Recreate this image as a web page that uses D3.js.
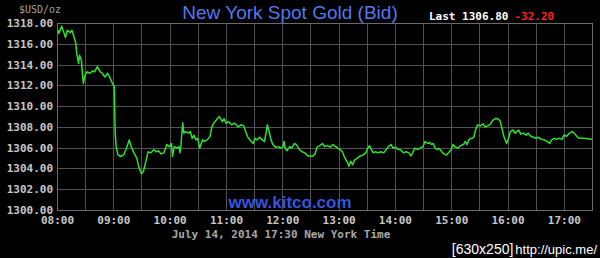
<!DOCTYPE html>
<html>
<head>
<meta charset="utf-8">
<script src="https://cdn.jsdelivr.net/npm/d3@7"></script>
<style>
  html, body { margin: 0; padding: 0; background: #000; }
  svg { display: block; }
  .tick text { font-family: "DejaVu Sans Mono", monospace; font-size: 11px; font-weight: bold; fill: #c8c8c8; }
</style>
</head>
<body>
<div id="chart"></div>
<script>
/* CONSTANTS AND GLOBALS */
const width = 600,
  height = 258,
  margin = { top: 23, bottom: 48, left: 57, right: 8 };

// minutes after 08:00 and the bid price
const minutes = [1, 2, 5, 7, 9, 11, 14, 16, 18, 20, 21, 23, 24, 26, 28, 30, 32, 35, 38, 40,
  43, 46, 48, 51, 54, 56, 59, 61, 62, 63, 65, 68, 71, 74, 77, 79, 82, 85, 87, 90,
  92, 95, 97, 100, 103, 106, 108, 111, 114, 117, 120, 122, 123, 125, 128, 130, 131, 132, 133, 134,
  135, 137, 140, 142, 144, 146, 148, 150, 152, 155, 157, 160, 163, 165, 167, 170, 173, 176, 178, 180,
  183, 186, 189, 190, 193, 196, 199, 201, 203, 205, 207, 209, 211, 213, 216, 218, 221, 223, 224, 226,
  228, 230, 233, 236, 238, 241, 242, 243, 245, 248, 250, 253, 255, 258, 261, 264, 267, 270, 272, 275,
  277, 280, 283, 285, 288, 291, 294, 297, 299, 302, 304, 306, 308, 310, 311, 313, 315, 317, 320, 323,
  326, 329, 331, 333, 335, 337, 339, 342, 345, 348, 351, 353, 356, 358, 361, 363, 366, 369, 372, 375,
  377, 379, 381, 384, 387, 390, 392, 395, 397, 399, 401, 403, 405, 407, 410, 412, 415, 417, 420, 422,
  424, 427, 430, 433, 435, 437, 439, 442, 444, 446, 448, 451, 454, 456, 459, 462, 464, 467, 470, 472,
  474, 476, 479, 481, 483, 486, 488, 490, 492, 494, 497, 500, 502, 505, 508, 510, 513, 516, 519, 522,
  525, 527, 530, 532, 535, 538, 540, 543, 546, 549, 551, 554, 556, 561, 570];

const prices = [1317.33, 1317.0, 1317.7, 1317.16, 1316.6, 1317.3, 1317.07, 1317.3, 1316.7, 1316.05, 1315.1, 1314.1, 1314.9, 1314.4, 1312.2, 1313.0, 1313.3, 1313.16, 1313.4, 1313.3,
  1313.8, 1313.3, 1313.2, 1312.8, 1313.16, 1312.8, 1312.2, 1311.9, 1307.4, 1306.1, 1305.3, 1305.15, 1305.3, 1305.95, 1306.75, 1306.1, 1305.5, 1305.0, 1304.2, 1303.5,
  1303.7, 1304.8, 1305.6, 1305.5, 1305.8, 1305.6, 1305.7, 1305.4, 1305.5, 1306.3, 1306.1, 1306.4, 1305.15, 1306.1, 1305.95, 1306.1, 1305.5, 1306.1, 1307.4, 1308.4,
  1307.4, 1307.55, 1307.4, 1307.55, 1306.9, 1307.2, 1306.75, 1306.9, 1305.95, 1306.75, 1306.6, 1306.75, 1307.07, 1308.0, 1308.35, 1308.7, 1309.0, 1308.5, 1308.8, 1308.35,
  1308.5, 1308.2, 1308.35, 1308.3, 1308.0, 1308.2, 1308.1, 1307.55, 1307.07, 1306.8, 1306.6, 1306.4, 1306.9, 1306.75, 1307.0, 1306.8, 1306.6, 1307.55, 1308.2, 1307.55,
  1306.75, 1306.3, 1306.05, 1306.1, 1305.95, 1306.1, 1306.6, 1305.95, 1305.7, 1306.1, 1305.95, 1306.4, 1306.3, 1305.85, 1305.6, 1305.5, 1305.2, 1305.2, 1305.15, 1305.4,
  1306.05, 1306.2, 1306.4, 1306.1, 1306.2, 1306.05, 1306.3, 1306.1, 1305.95, 1305.8, 1305.6, 1305.15, 1304.8, 1304.5, 1304.2, 1304.7, 1304.35, 1304.8, 1305.0, 1305.2,
  1305.3, 1305.5, 1305.95, 1306.2, 1305.8, 1305.5, 1305.6, 1305.5, 1305.6, 1305.5, 1305.85, 1306.1, 1306.3, 1305.95, 1306.05, 1305.85, 1305.8, 1305.5, 1305.6, 1305.5,
  1305.2, 1305.5, 1305.95, 1305.85, 1305.95, 1306.1, 1306.6, 1306.4, 1306.5, 1306.3, 1306.4, 1305.95, 1305.8, 1305.95, 1305.6, 1305.4, 1305.3, 1305.5, 1305.8, 1306.3,
  1306.1, 1305.95, 1306.2, 1306.3, 1306.6, 1306.3, 1306.8, 1306.9, 1307.0, 1307.7, 1308.2, 1308.1, 1308.3, 1308.0, 1308.1, 1308.3, 1308.6, 1308.8, 1308.75, 1308.6,
  1307.9, 1307.1, 1306.4, 1306.9, 1307.55, 1307.7, 1307.4, 1307.55, 1307.7, 1307.3, 1307.4, 1307.2, 1307.4, 1307.07, 1307.0, 1306.9, 1307.0, 1306.8, 1306.75, 1306.6,
  1306.4, 1306.75, 1306.9, 1306.8, 1306.9, 1306.8, 1307.2, 1307.1, 1307.4, 1307.55, 1307.4, 1307.07, 1306.9, 1306.9, 1306.8];

const priceTicks = [1300, 1302, 1304, 1306, 1308, 1310, 1312, 1314, 1316, 1318];
const hourTicks = ["08:00", "09:00", "10:00", "11:00", "12:00", "13:00", "14:00", "15:00", "16:00", "17:00"];
const lastPrice = "1306.80";
const change = "-32.20";

let svg, xScale, yScale;

const parseTime = d3.timeParse("%Y-%m-%d %H:%M");
const startTime = parseTime("2014-07-14 08:00");
const endTime = parseTime("2014-07-14 17:30");

init();

function init() {
  svg = d3.select("#chart").append("svg")
    .attr("width", width)
    .attr("height", height);

  svg.append("rect").attr("width", width).attr("height", height).attr("fill", "#000");

  xScale = d3.scaleTime()
    .domain([startTime, endTime])
    .range([margin.left, width - margin.right]);

  yScale = d3.scaleLinear()
    .domain([1300, 1318])
    .range([height - margin.bottom, margin.top]);

  // grid: every half hour and every 2 dollars
  const halfHours = d3.timeMinute.every(30).range(startTime, d3.timeMinute.offset(endTime, 1));
  svg.append("g")
    .selectAll("line")
    .data(halfHours)
    .join("line")
    .attr("x1", d => Math.round(xScale(d)) + 0.5)
    .attr("x2", d => Math.round(xScale(d)) + 0.5)
    .attr("y1", yScale(1318))
    .attr("y2", yScale(1300))
    .attr("stroke", "#525252");

  svg.append("g")
    .selectAll("line")
    .data(priceTicks)
    .join("line")
    .attr("x1", xScale(startTime))
    .attr("x2", xScale(endTime))
    .attr("y1", d => Math.round(yScale(d)) + 0.5)
    .attr("y2", d => Math.round(yScale(d)) + 0.5)
    .attr("stroke", "#525252");

  svg.append("rect")
    .attr("x", Math.round(xScale(startTime)) + 0.5)
    .attr("y", Math.round(yScale(1318)) + 0.5)
    .attr("width", Math.round(xScale(endTime)) - Math.round(xScale(startTime)))
    .attr("height", Math.round(yScale(1300)) - Math.round(yScale(1318)))
    .attr("fill", "none")
    .attr("stroke", "#6a6a6a");

  // axes
  const yAxis = d3.axisLeft(yScale)
    .tickValues(priceTicks)
    .tickFormat(d3.format(".2f"))
    .tickSize(0)
    .tickPadding(4);

  svg.append("g")
    .attr("transform", `translate(${margin.left},0)`)
    .call(yAxis)
    .call(g => g.select(".domain").remove());

  const xAxis = d3.axisBottom(xScale)
    .tickValues(hourTicks.map(h => parseTime("2014-07-14 " + h)))
    .tickFormat(d3.timeFormat("%H:%M"))
    .tickSize(0)
    .tickPadding(6);

  svg.append("g")
    .attr("transform", `translate(0,${height - margin.bottom})`)
    .call(xAxis)
    .call(g => g.select(".domain").remove());

  // texts
  svg.append("text")
    .attr("x", 290).attr("y", 19)
    .attr("text-anchor", "middle")
    .attr("font-family", "Liberation Sans, Arial, sans-serif")
    .attr("font-size", 19)
    .attr("fill", "#5577ee")
    .text("New York Spot Gold (Bid)");

  svg.append("text")
    .attr("x", 40).attr("y", 13)
    .attr("text-anchor", "middle")
    .attr("font-family", "DejaVu Sans Mono, monospace")
    .attr("font-size", 10)
    .attr("fill", "#a0a0a0")
    .text("$USD/oz");

  const last = svg.append("text")
    .attr("x", 429).attr("y", 20)
    .attr("font-family", "DejaVu Sans Mono, monospace")
    .attr("font-size", 11)
    .attr("font-weight", "bold")
    .attr("fill", "#ffffff");
  last.append("tspan").text("Last " + lastPrice);
  last.append("tspan").attr("dx", 6).attr("fill", "#ff2020").text(change);

  svg.append("text")
    .attr("x", 290).attr("y", 208)
    .attr("text-anchor", "middle")
    .attr("font-family", "Liberation Sans, Arial, sans-serif")
    .attr("font-size", 17)
    .attr("font-weight", "bold")
    .attr("fill", "#3355dd")
    .text("www.kitco.com");

  svg.append("text")
    .attr("x", 281).attr("y", 238)
    .attr("text-anchor", "middle")
    .attr("font-family", "DejaVu Sans Mono, monospace")
    .attr("font-size", 11)
    .attr("font-weight", "bold")
    .attr("fill", "#a8a8a8")
    .text("July 14, 2014 17:30 New York Time");

  const upic = svg.append("text")
    .attr("x", 597).attr("y", 254)
    .attr("text-anchor", "end")
    .attr("font-family", "Liberation Sans Narrow, Liberation Sans, sans-serif")
    .attr("fill", "#ffffff");
  upic.append("tspan").attr("font-size", 14).text("[630x250]");
  upic.append("tspan").attr("font-size", 13).attr("dx", 2).text("http://upic.me/");

  draw();
}

function draw() {
  const data = minutes.map((m, i) => ({
    time: d3.timeMinute.offset(startTime, m),
    price: prices[i]
  }));

  const lineFunction = d3.line()
    .x(d => xScale(d.time))
    .y(d => yScale(d.price));

  svg.append("path")
    .datum(data)
    .attr("d", lineFunction)
    .attr("fill", "none")
    .attr("stroke", "#2ee02e")
    .attr("stroke-width", 1.5)
    .attr("stroke-linejoin", "round");
}
</script>
</body>
</html>
